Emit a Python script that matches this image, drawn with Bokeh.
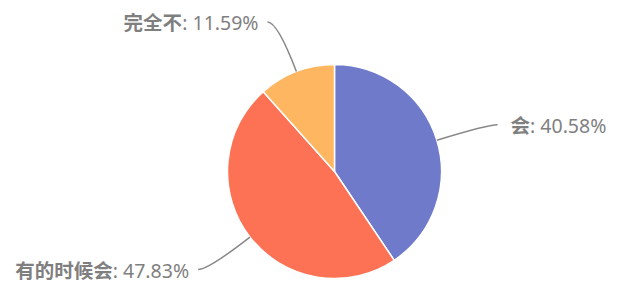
import math
from bokeh.plotting import figure
from bokeh.models import Range1d, ColumnDataSource
from bokeh.core.properties import value
from bokeh.embed import file_html
from bokeh.resources import INLINE

categories = ["会", "有的时候会", "完全不"]
values = [40.58, 47.83, 11.59]
colors = ["#6f7aca", "#fd7255", "#ffb661"]

W, H = 640, 297
CX, CY, R = 334, H - 171, 107
LR = 160          # label radius
HOFF = 10         # horizontal tail of connector
FS = 19.5         # font size in px
TEXT_COLOR = "#7f7f7f"
FONT = "Noto Sans, Noto Sans CJK SC"

p = figure(width=W, height=H, output_backend="svg", toolbar_location=None,
           x_range=Range1d(0, W), y_range=Range1d(0, H),
           x_axis_type=None, y_axis_type=None, min_border=0)
p.outline_line_color = None
p.grid.visible = False
p.background_fill_color = "white"

total = sum(values)
starts, ends, mids = [], [], []
acc = 0.0
for v in values:
    a0 = acc / total * 2 * math.pi
    acc += v
    a1 = acc / total * 2 * math.pi
    starts.append(a0)
    ends.append(a1)
    mids.append((a0 + a1) / 2)

# bokeh angles: counterclockwise from +x; ours clockwise from top
src = ColumnDataSource(dict(
    start=[math.pi / 2 - a for a in starts],
    end=[math.pi / 2 - a for a in ends],
    color=colors,
))
p.wedge(x=CX, y=CY, radius=R, start_angle="end", end_angle="start",
        fill_color="color", line_color="white", line_width=1.5, source=src)

adv = {c: 0.572 for c in "0123456789"}
adv.update({".": 0.268, ":": 0.268, " ": 0.26, "%": 0.838})

def text_width(s):
    return sum(adv.get(c, 1.0) for c in s) * FS

fs_str = "%.1fpx" % FS
for name, v, m in zip(categories, values, mids):
    s, c = math.sin(m), math.cos(m)
    x0, y0 = CX + R * s, CY + R * c
    xc, yc = CX + LR * s, CY + LR * c
    side = 1 if s >= 0 else -1
    x1, y1 = xc + side * HOFF, yc
    p.quadratic(x0=[x0], y0=[y0], x1=[x1], y1=[y1], cx=[xc], cy=[yc],
                line_color="#888888", line_width=1.5)
    val_txt = ": %.2f%%" % v
    ty = y1 - 1
    if side > 0:
        tx = x1 + 13
        p.text(x=[tx], y=[ty], text=[name], text_font=value(FONT),
               text_font_style="bold", text_font_size=fs_str,
               text_color=TEXT_COLOR, text_align="left", text_baseline="middle")
        p.text(x=[tx + len(name) * FS], y=[ty], text=[val_txt], text_font=value(FONT),
               text_font_size=fs_str, text_color=TEXT_COLOR,
               text_align="left", text_baseline="middle")
    else:
        tx = x1 - 9
        p.text(x=[tx], y=[ty], text=[val_txt], text_font=value(FONT),
               text_font_size=fs_str, text_color=TEXT_COLOR,
               text_align="right", text_baseline="middle")
        p.text(x=[tx - text_width(val_txt)], y=[ty], text=[name], text_font=value(FONT),
               text_font_style="bold", text_font_size=fs_str,
               text_color=TEXT_COLOR, text_align="right", text_baseline="middle")

open("out.html", "w").write(file_html(p, INLINE))
